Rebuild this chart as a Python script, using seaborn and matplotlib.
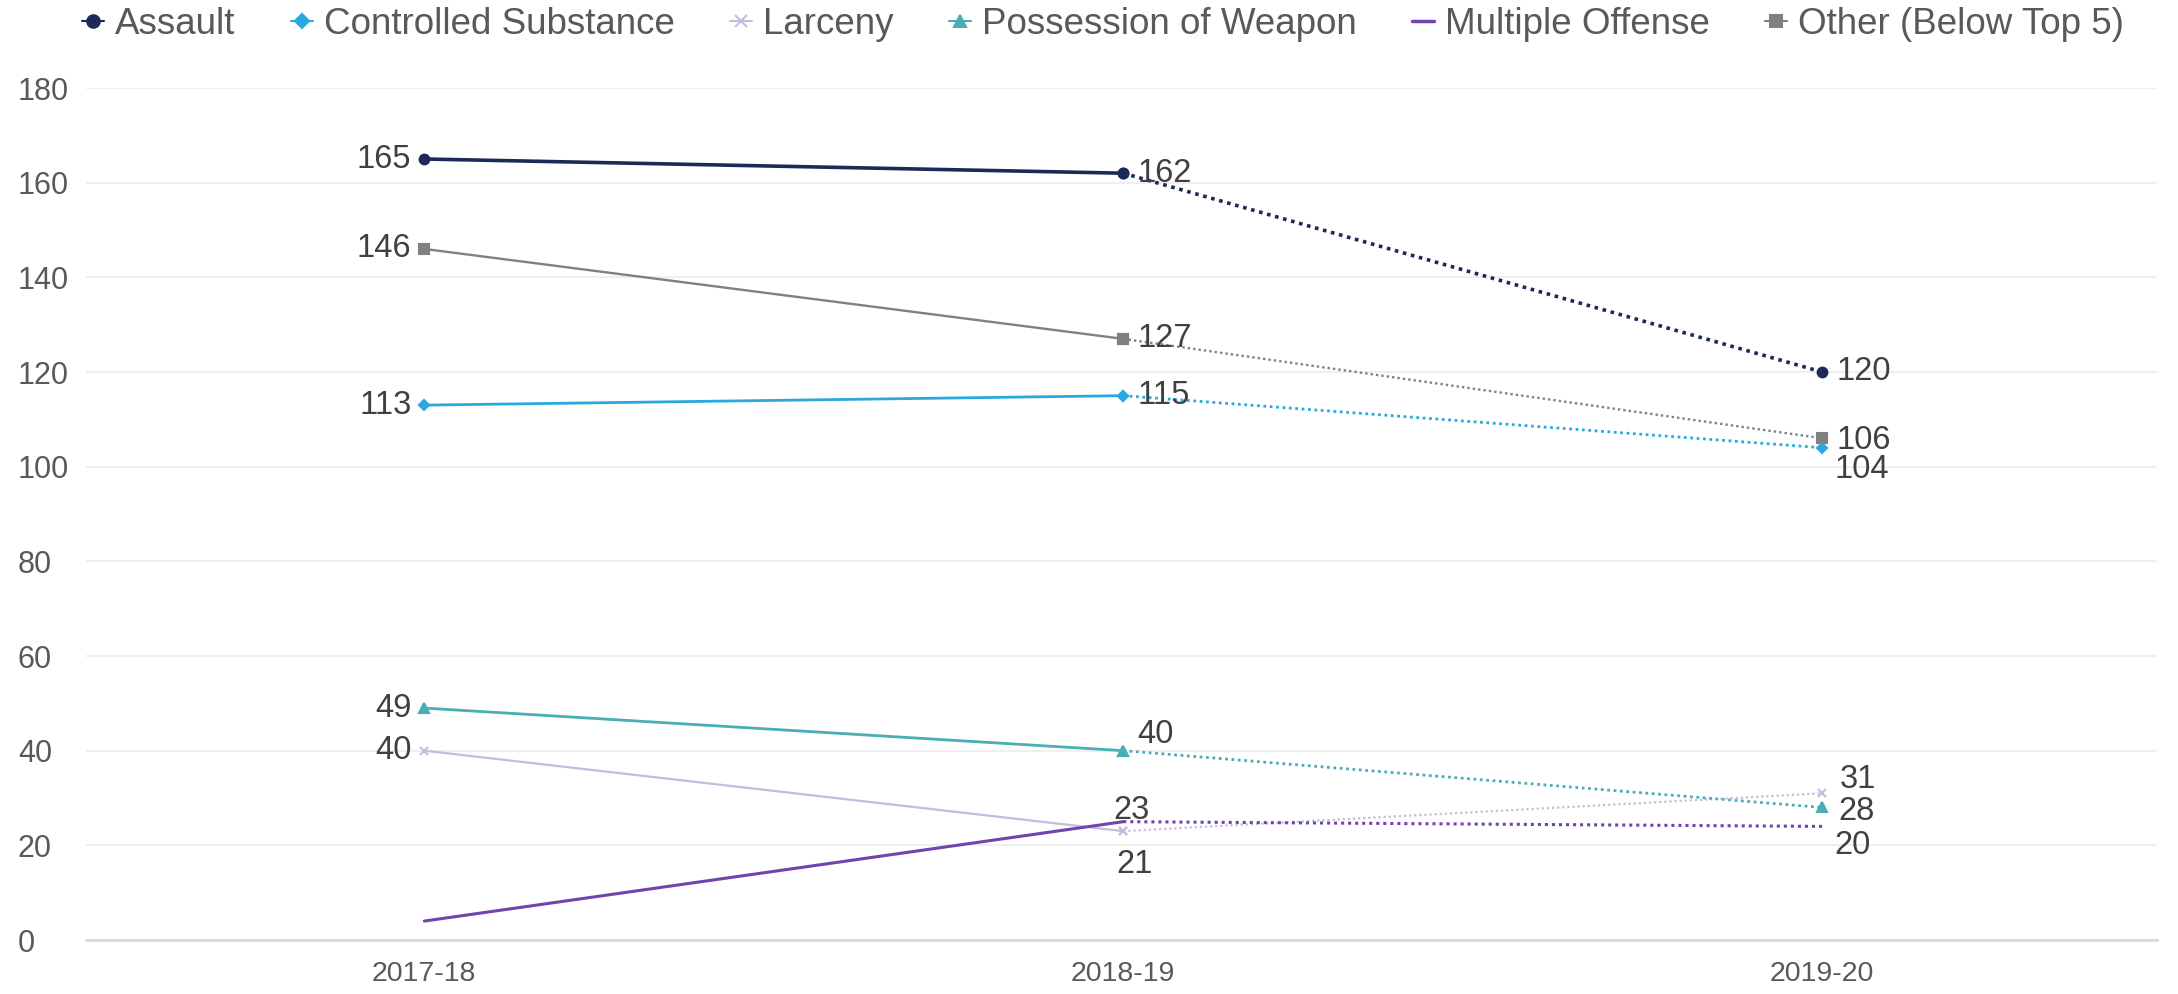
import matplotlib
matplotlib.use("Agg")
import matplotlib.pyplot as plt
from matplotlib.lines import Line2D
import seaborn as sns
import pandas as pd

years = ["2017-18", "2018-19", "2019-20"]
series = ["Assault", "Controlled Substance", "Larceny", "Possession of Weapon",
          "Multiple Offense", "Other (Below Top 5)"]
assault = [165, 162, 120]
controlled = [113, 115, 104]
larceny = [40, 23, 31]
weapon = [49, 40, 28]
multiple = [4, 25, 24]
other = [146, 127, 106]
values = [assault, controlled, larceny, weapon, multiple, other]

# data label texts as printed on the chart
lab_assault = ["165", "162", "120"]
lab_controlled = ["113", "115", "104"]
lab_larceny = ["40", "21", "31"]
lab_weapon = ["49", "40", "28"]
lab_multiple = [None, "23", "20"]
lab_other = ["146", "127", "106"]
labels = [lab_assault, lab_controlled, lab_larceny, lab_weapon, lab_multiple, lab_other]

colors = ["#1c2a57", "#29a9df", "#c3bcdc", "#4aaeb4", "#7442b0", "#808080"]
markers = ["o", "D", "x", "^", None, "s"]
msizes = [7, 5, 6, 7, 0, 7]
lws = [2.6, 2.0, 1.6, 2.0, 2.2, 1.7]

rows = []
for s, v in zip(series, values):
    for i, (y, val) in enumerate(zip(years, v)):
        rows.append({"series": s, "year": y, "x": i, "value": val})
df = pd.DataFrame(rows)

sns.set_theme(style="white")
plt.rcParams["font.family"] = ["Liberation Sans", "DejaVu Sans"]

fig = plt.figure(figsize=(21.78, 9.94), dpi=100)
ax = fig.add_axes([86 / 2178, 1 - 940 / 994, (2157 - 86) / 2178, (940 - 88) / 994])

txt_color = "#595959"

for s, c, m, ms, lw in zip(series, colors, markers, msizes, lws):
    sub = df[df["series"] == s]
    a = sub[sub["x"] <= 1]
    b = sub[sub["x"] >= 1]
    kw = dict(color=c, linewidth=lw, legend=False, ax=ax)
    if m is not None:
        kw.update(marker=m, markersize=ms, markeredgecolor=c, markeredgewidth=1.5)
    sns.lineplot(data=a, x="x", y="value", linestyle="-", **kw)
    sns.lineplot(data=b, x="x", y="value", linestyle=(0, (1, 1.3)), **kw)

# data labels (offsets in pixels)
fs_lab = 23.5
for si, (v, labs) in enumerate(zip(values, labels)):
    name = series[si]
    for i, (val, t) in enumerate(zip(v, labs)):
        if t is None:
            continue
        if i == 0:
            dx, dy, ha, va = -13, 0, "right", "center"
        else:
            dx, dy, ha, va = 14, 0, "left", "center"
        if i == 1 and name == "Possession of Weapon":
            dx, dy = 14, 16
        if i == 1 and name == "Larceny":
            dx, dy, ha = 11, -33, "center"
        if i == 1 and name == "Multiple Offense":
            dx, dy, ha = 8, 11, "center"
        if i == 2 and name == "Larceny":
            dx, dy = 18, 14
        if i == 2 and name == "Possession of Weapon":
            dx, dy = 16, -4
        if i == 2 and name == "Multiple Offense":
            dx, dy = 12, -19
        if i == 2 and name == "Controlled Substance":
            dx, dy = 12, -22
        if i == 2 and name == "Other (Below Top 5)":
            dx, dy = 14, -2
        ax.annotate(t, (i, val), xytext=(dx * 0.72, dy * 0.72), textcoords="offset points",
                    ha=ha, va=va, fontsize=fs_lab, color="#404040")

ax.set_xlim(-0.484, 2.479)
ax.set_ylim(0, 180)
ax.set_yticks(range(0, 181, 20))
ax.set_xticks(range(len(years)))
ax.set_xticklabels(years)
ax.set_xlabel("")
ax.set_ylabel("")
ax.grid(axis="y", color="#efefef", linewidth=1.5)
ax.grid(axis="x", visible=False)
for sp in ["left", "right", "top"]:
    ax.spines[sp].set_visible(False)
ax.spines["bottom"].set_color("#d9d9d9")
ax.spines["bottom"].set_linewidth(2)
ax.tick_params(axis="y", length=0, pad=49, labelsize=22, labelcolor=txt_color)
ax.tick_params(axis="x", length=0, pad=15, labelsize=20.5, labelcolor=txt_color)
for t in ax.get_yticklabels():
    t.set_horizontalalignment("left")

handles = []
for s, c, m, ms in zip(series, colors, markers, msizes):
    if m is None:
        h = Line2D([0], [0], color=c, linewidth=2.5)
    else:
        h = Line2D([0], [0], color=c, linewidth=1.5, marker=m, markersize=ms + 2,
                   markeredgecolor=c, markeredgewidth=1.5)
    handles.append(h)
leg = fig.legend(handles, series, loc="center left", bbox_to_anchor=(82 / 2178, 1 - 24 / 994),
                 ncol=6, frameon=False, fontsize=26.5, handlelength=0.6, handletextpad=0.3,
                 columnspacing=1.5, borderaxespad=0, borderpad=0)
for t in leg.get_texts():
    t.set_color(txt_color)

fig.savefig("out.png", dpi=100, facecolor="white")
